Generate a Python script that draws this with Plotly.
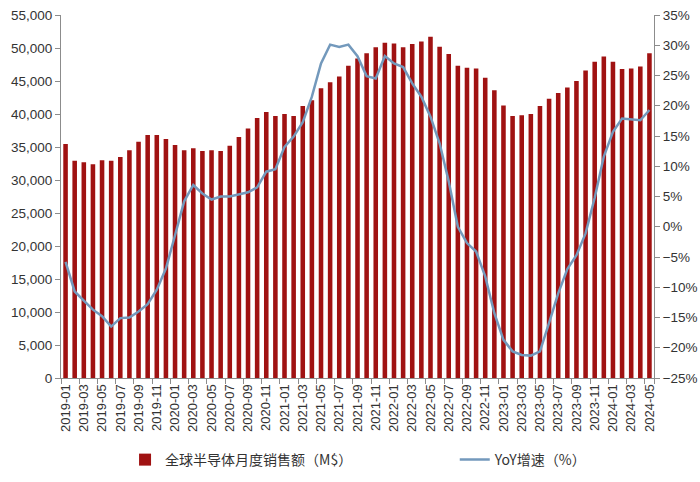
import plotly.graph_objects as go

months = [f"{y}-{m:02d}" for y in range(2019, 2025) for m in range(1, 13)][:65]

sales = [35450, 32900, 32700, 32400, 33000, 32900, 33500, 34500, 35800, 36800, 36800, 36200,
         35300, 34500, 34800, 34400, 34500, 34400, 35200, 36500, 37800, 39400, 40300, 39700,
         40000, 39700, 41200, 42100, 43900, 44800, 45700, 47300, 48400, 49200, 50100, 50800,
         50700, 50100, 50600, 51000, 51700, 50200, 49100, 47300, 47000, 46900, 45500, 43600,
         41300, 39700, 39800, 40000, 41200, 42300, 43200, 44000, 45000, 46600, 47900, 48700,
         47900, 46800, 46900, 47200, 49200]

yoy = [-5.8, -10.7, -12.2, -13.7, -14.8, -16.5, -15.1, -15.0, -14.0, -12.8, -10.4, -6.9,
       -1.4, 4.2, 6.9, 5.5, 4.5, 5.0, 5.0, 5.3, 5.7, 6.5, 9.1, 9.5,
       13.2, 14.9, 17.3, 21.5, 27.0, 30.1, 29.7, 30.1, 28.2, 24.9, 24.5, 28.2,
       27.0, 26.4, 23.7, 21.5, 18.2, 13.8, 7.5, 0.0, -2.7, -4.1, -8.2, -14.3,
       -18.7, -20.6, -21.2, -21.3, -20.6, -15.9, -11.0, -7.0, -4.7, -1.1, 4.8, 11.6,
       15.7, 17.9, 17.8, 17.6, 19.3]

bar_name = "全球半导体月度销售额（M$）"
line_name = "YoY增速（%）"

font_family = "Liberation Sans, Arial, Noto Sans CJK SC, sans-serif"
axis_col = "#8C8C8C"
text_col = "#333333"
legend_font = dict(size=14, family="Noto Sans CJK SC, sans-serif", color=text_col)

fig = go.Figure()
fig.add_trace(go.Bar(x=months, y=sales, name=bar_name, marker=dict(color="#A01212", line=dict(width=0)),
                     legend="legend", showlegend=True))
fig.add_trace(go.Scatter(x=months, y=yoy, name=line_name, mode="lines", yaxis="y2",
                         line=dict(color="#7399BC", width=2.5), legend="legend2", showlegend=True))

fig.update_layout(
    width=700, height=482,
    margin=dict(l=61, r=46, t=15, b=104, autoexpand=False),
    paper_bgcolor="white", plot_bgcolor="white",
    font=dict(family=font_family, size=13, color=text_col),
    bargap=0.5,
    showlegend=True,
    xaxis=dict(type="category", tickmode="array", tickvals=months[::2], ticktext=months[::2],
               tickangle=-90, showline=True, linecolor=axis_col, linewidth=1,
               ticks="outside", ticklen=5, tickcolor=axis_col, tickson="boundaries",
               showgrid=False, range=[-0.5, 64.5], tickfont=dict(size=13), automargin=False),
    yaxis=dict(range=[0, 55000], dtick=5000, tickformat=",d", showline=True, linecolor=axis_col,
               linewidth=1, ticks="outside", ticklen=5, tickcolor=axis_col, showgrid=False,
               zeroline=False, tickfont=dict(size=13.5), automargin=False),
    yaxis2=dict(range=[-25, 35], dtick=5, ticksuffix="%", overlaying="y", side="right",
                showline=True, linecolor=axis_col, linewidth=1, ticks="outside", ticklen=5,
                tickcolor=axis_col, showgrid=False, zeroline=False, tickfont=dict(size=13.5),
                automargin=False),
    legend=dict(visible=True, x=0.108, y=0.0456, xref="paper", yref="container", xanchor="left",
                yanchor="middle", orientation="h", font=legend_font, bgcolor="rgba(0,0,0,0)"),
    legend2=dict(visible=True, x=0.664, y=0.0456, xref="paper", yref="container", xanchor="left",
                 yanchor="middle", orientation="h", font=legend_font, bgcolor="rgba(0,0,0,0)"),
)

fig.write_html("out.html")
